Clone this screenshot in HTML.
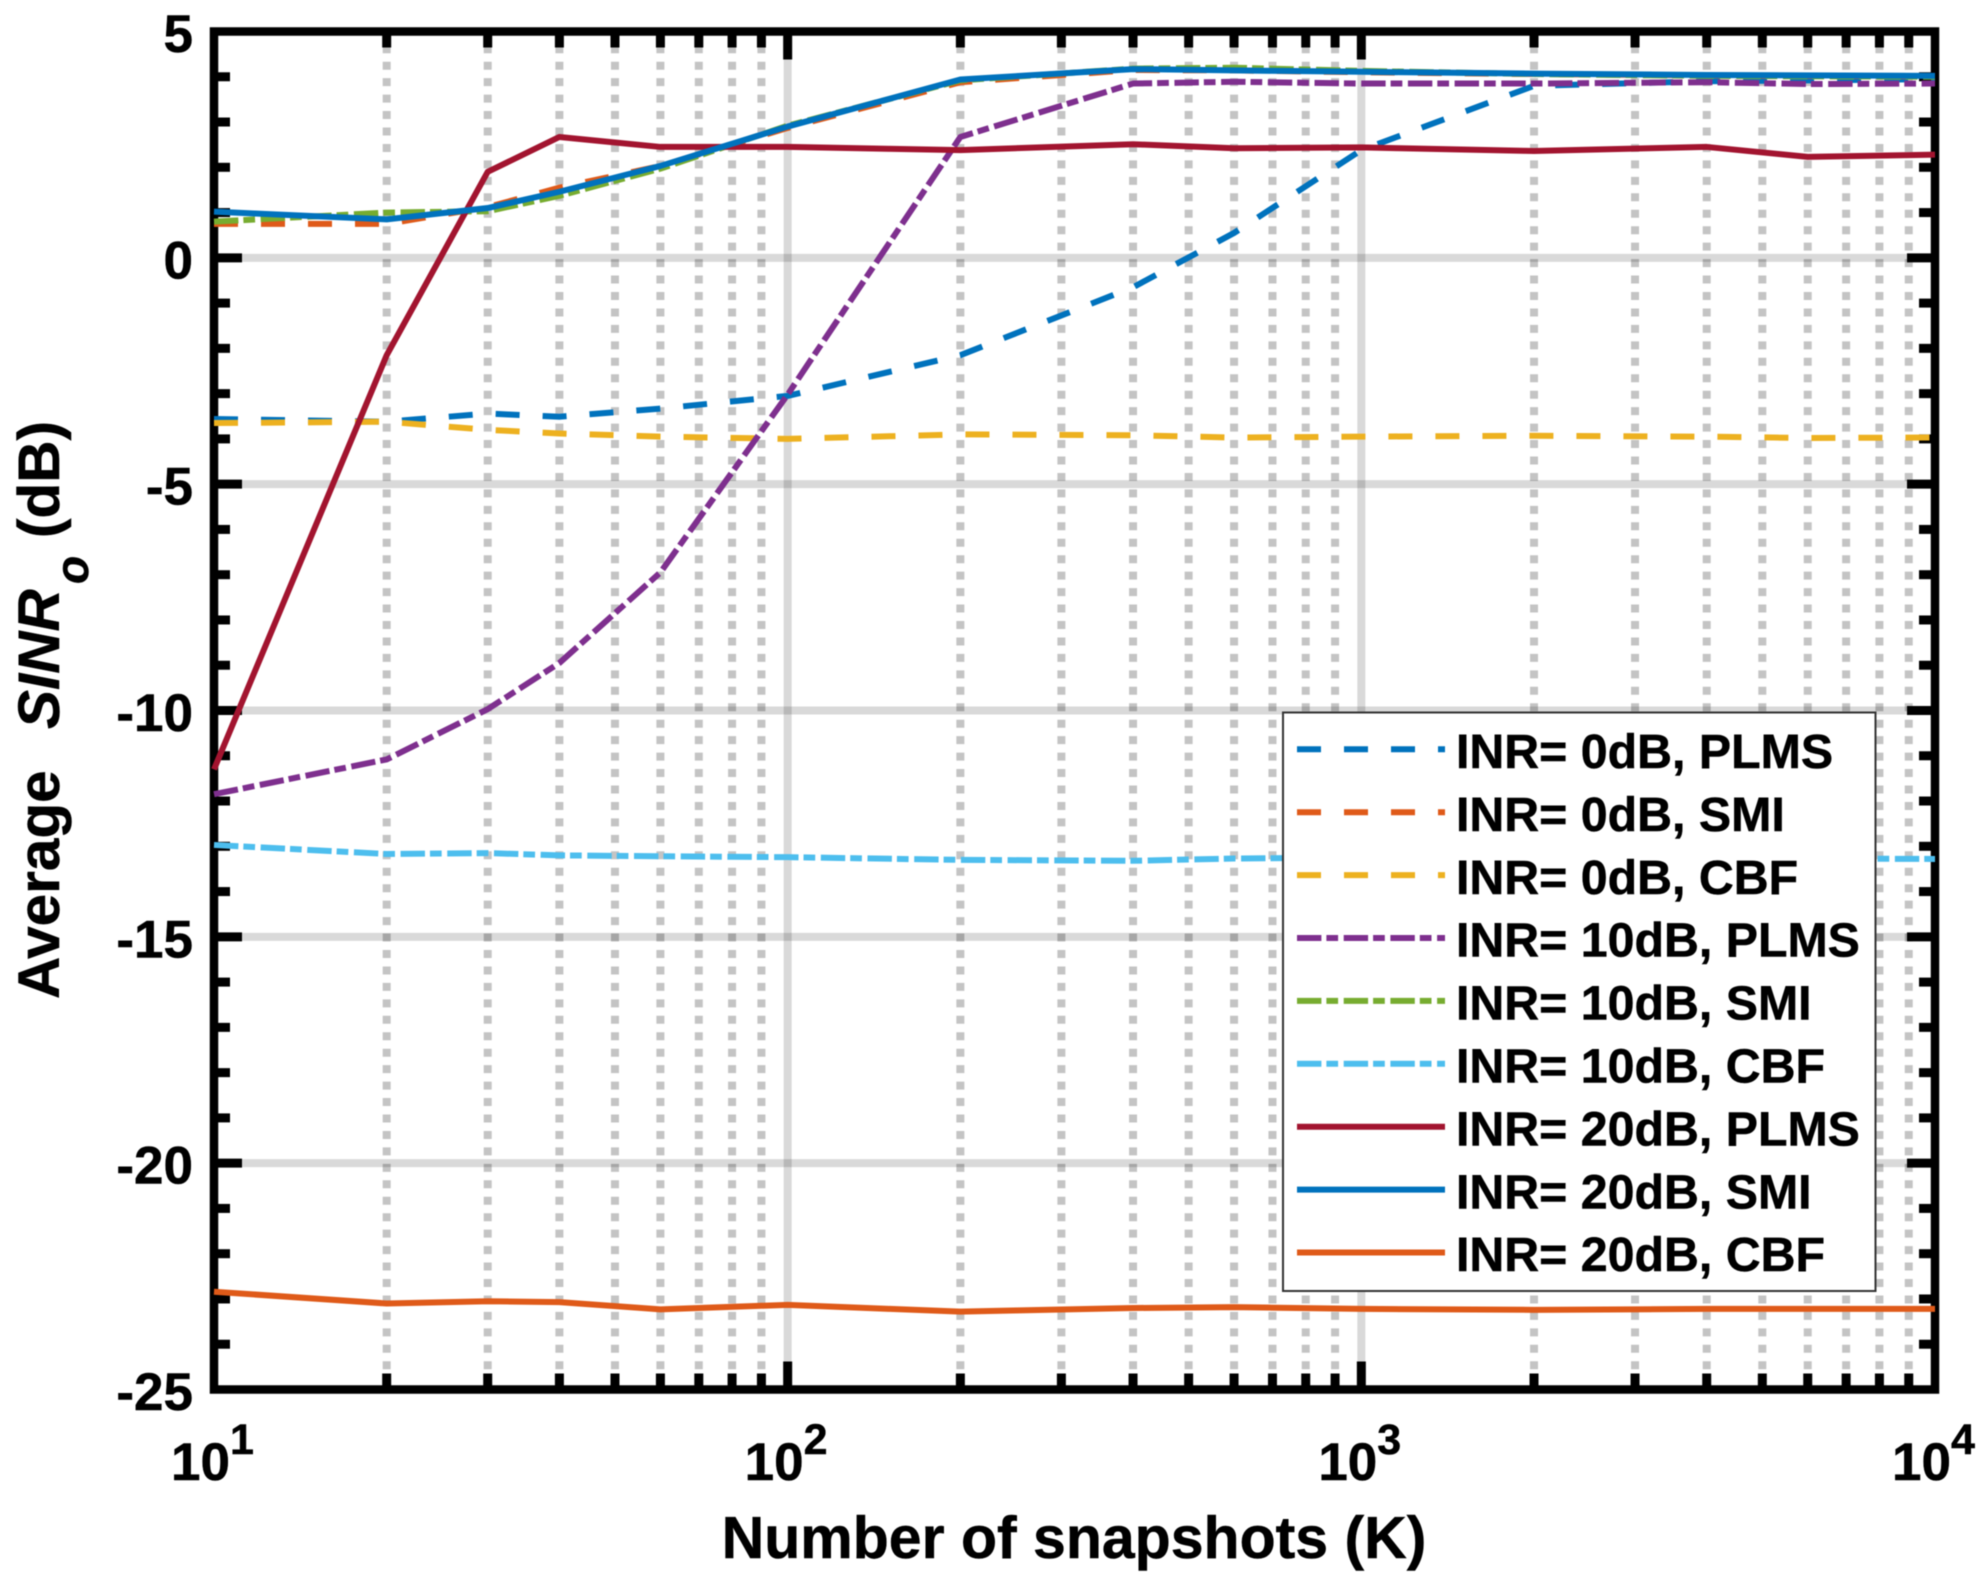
<!DOCTYPE html>
<html>
<head>
<meta charset="utf-8">
<title>Average SINR vs number of snapshots</title>
<style>
html,body{margin:0;padding:0;background:#fff;}
svg{display:block;font-family:"Liberation Sans",Arial,sans-serif;font-weight:bold;filter:blur(0.6px);}
text{stroke:#000;stroke-width:0.5px;}
</style>
</head>
<body>
<svg id="chart" xmlns="http://www.w3.org/2000/svg" width="1986" height="1587" viewBox="0 0 1986 1587">
  <rect x="0" y="0" width="1986" height="1587" fill="#fff"/>
  <g id="grid"></g>
  <g id="axes"></g>
  <g id="series"></g>
  <g id="ticklabels"></g>
  <text x="1074" y="1558" font-size="59" text-anchor="middle" fill="#000">Number of snapshots (K)</text>
  <text transform="translate(59,999) rotate(-90)" font-size="58.5" fill="#000"><tspan x="0">Average</tspan><tspan x="270" font-style="italic">SINR</tspan><tspan x="415" dy="29" font-size="46" font-style="italic">o</tspan><tspan x="461" dy="-29">(dB)</tspan></text>
  <g>
    <rect x="1283" y="712.5" width="592.5" height="578.5" fill="#fff" stroke="#333" stroke-width="2"/>
    <g id="legend-lines"></g>
    <g font-size="48.3" fill="#000">
      <text x="1456" y="768">INR= 0dB, PLMS</text>
      <text x="1456" y="830.9">INR= 0dB, SMI</text>
      <text x="1456" y="893.8">INR= 0dB, CBF</text>
      <text x="1456" y="956.7">INR= 10dB, PLMS</text>
      <text x="1456" y="1019.6">INR= 10dB, SMI</text>
      <text x="1456" y="1082.5">INR= 10dB, CBF</text>
      <text x="1456" y="1145.4">INR= 20dB, PLMS</text>
      <text x="1456" y="1208.3">INR= 20dB, SMI</text>
      <text x="1456" y="1271.2">INR= 20dB, CBF</text>
    </g>
  </g>
</svg>
<script>
// Chart data
const snapshots = [10, 20, 30, 40, 60, 100, 200, 400, 600, 1000, 2000, 4000, 6000, 10000];
const inr0Plms  = [-3.56, -3.62, -3.44, -3.51, -3.33, -3.05, -2.15, -0.65, 0.55, 2.38, 3.80, 3.90, 3.92, 3.95];
const inr0Smi   = [0.75, 0.75, 1.12, 1.55, 2.03, 2.87, 3.88, 4.15, 4.14, 4.10, 4.06, 4.03, 4.02, 4.01];
const inr0Cbf   = [-3.65, -3.62, -3.80, -3.88, -3.95, -4.00, -3.90, -3.92, -3.97, -3.95, -3.93, -3.95, -3.98, -3.97];
const inr10Plms = [-11.85, -11.08, -9.97, -8.95, -6.95, -3.02, 2.67, 3.85, 3.89, 3.85, 3.85, 3.88, 3.84, 3.85];
const inr10Smi  = [0.80, 1.00, 1.03, 1.37, 1.97, 2.92, 3.92, 4.18, 4.20, 4.13, 4.06, 4.02, 4.01, 4.00];
const inr10Cbf  = [-12.97, -13.17, -13.15, -13.20, -13.22, -13.24, -13.30, -13.32, -13.27, -13.25, -13.26, -13.27, -13.27, -13.28];
const inr20Plms = [-11.30, -2.15, 1.90, 2.67, 2.45, 2.45, 2.38, 2.51, 2.42, 2.44, 2.36, 2.45, 2.23, 2.28];
const inr20Smi  = [1.02, 0.85, 1.10, 1.46, 2.03, 2.90, 3.94, 4.17, 4.14, 4.11, 4.07, 4.04, 4.03, 4.02];
const inr20Cbf  = [-22.84, -23.10, -23.05, -23.07, -23.23, -23.13, -23.28, -23.20, -23.18, -23.22, -23.24, -23.22, -23.22, -23.22];

const xMajorTicks = [10, 100, 1000, 10000];
const xMinorTicks = [20, 30, 40, 50, 60, 70, 80, 90, 200, 300, 400, 500, 600, 700, 800, 900, 2000, 3000, 4000, 5000, 6000, 7000, 8000, 9000];
const xTickExponents = ['1', '2', '3', '4'];
const yMajorTicks = [5, 0, -5, -10, -15, -20, -25];
const yMinorTicks = [4, 3, 2, 1, -1, -2, -3, -4, -6, -7, -8, -9, -11, -12, -13, -14, -16, -17, -18, -19, -21, -22, -23, -24];

const DASH = '24 23';
const DASHDOT = '24.4 5 11.7 5.6';
const seriesDefs = [
  {name: 'inr0-plms',  values: inr0Plms,  color: '#0072BD', dash: DASH},
  {name: 'inr0-smi',   values: inr0Smi,   color: '#DF5A19', dash: DASH},
  {name: 'inr0-cbf',   values: inr0Cbf,   color: '#EDB120', dash: DASH},
  {name: 'inr10-plms', values: inr10Plms, color: '#7E2F8E', dash: DASHDOT},
  {name: 'inr10-smi',  values: inr10Smi,  color: '#77AC30', dash: DASHDOT},
  {name: 'inr10-cbf',  values: inr10Cbf,  color: '#4DBEEE', dash: DASHDOT},
  {name: 'inr20-plms', values: inr20Plms, color: '#A2142F', dash: ''},
  {name: 'inr20-smi',  values: inr20Smi,  color: '#0072BD', dash: ''},
  {name: 'inr20-cbf',  values: inr20Cbf,  color: '#DF5A19', dash: ''}
];

// Plot geometry
const plotLeft = 214, plotRight = 1935, plotTop = 31.5, plotBottom = 1389.5;
const xLogMin = 1, xLogMax = 4, yMin = -25, yMax = 5;
function xPos(k) { return plotLeft + (Math.log10(k) - xLogMin) / (xLogMax - xLogMin) * (plotRight - plotLeft); }
function yPos(v) { return plotBottom - (v - yMin) / (yMax - yMin) * (plotBottom - plotTop); }

const NS = 'http://www.w3.org/2000/svg';
function makeLine(parent, x1, y1, x2, y2, stroke, width) {
  const l = document.createElementNS(NS, 'line');
  l.setAttribute('x1', x1);
  l.setAttribute('y1', y1);
  l.setAttribute('x2', x2);
  l.setAttribute('y2', y2);
  l.setAttribute('stroke', stroke);
  l.setAttribute('stroke-width', width);
  parent.appendChild(l);
  return l;
}

const grid = document.getElementById('grid');
const axes = document.getElementById('axes');
const seriesGroup = document.getElementById('series');
const labels = document.getElementById('ticklabels');
const legendLines = document.getElementById('legend-lines');

// Grid
xMinorTicks.forEach(function (k) {
  const l = makeLine(grid, xPos(k), plotTop, xPos(k), plotBottom, '#000', 8);
  l.setAttribute('stroke-opacity', '0.23');
  l.setAttribute('stroke-dasharray', '8 8.45');
  l.setAttribute('stroke-dashoffset', '2.7');
  
  
});
xMajorTicks.slice(1, -1).forEach(function (k) {
  const l = makeLine(grid, xPos(k), plotTop, xPos(k), plotBottom, '#000', 8);
  l.setAttribute('stroke-opacity', '0.15');
  
  
});
yMajorTicks.slice(1, -1).forEach(function (v) {
  const l = makeLine(grid, plotLeft, yPos(v), plotRight, yPos(v), '#000', 8);
  l.setAttribute('stroke-opacity', '0.15');
  
  
});

// Ticks
const innerTop = plotTop + 4, innerBottom = plotBottom - 4, innerLeft = plotLeft + 4, innerRight = plotRight - 4;
function xTick(k, len) {
  const a = makeLine(axes, xPos(k), innerBottom, xPos(k), innerBottom - len, '#000', 9);
  
  
  const b = makeLine(axes, xPos(k), innerTop, xPos(k), innerTop + len, '#000', 9);
  
  
}
function yTick(v, len) {
  const a = makeLine(axes, innerLeft, yPos(v), innerLeft + len, yPos(v), '#000', 9);
  
  
  const b = makeLine(axes, innerRight, yPos(v), innerRight - len, yPos(v), '#000', 9);
  
  
}
xMinorTicks.forEach(function (k) { xTick(k, 12); });
xMajorTicks.slice(1, -1).forEach(function (k) { xTick(k, 24); });
yMinorTicks.forEach(function (v) { yTick(v, 12); });
yMajorTicks.slice(1, -1).forEach(function (v) { yTick(v, 24); });

// Axes box
const frame = document.createElementNS(NS, 'rect');
frame.setAttribute('x', plotLeft);
frame.setAttribute('y', plotTop);
frame.setAttribute('width', plotRight - plotLeft);
frame.setAttribute('height', plotBottom - plotTop);
frame.setAttribute('fill', 'none');
frame.setAttribute('stroke', '#000');
frame.setAttribute('stroke-width', '8.5');


axes.appendChild(frame);

// Tick labels
yMajorTicks.forEach(function (v) {
  const t = document.createElementNS(NS, 'text');
  t.setAttribute('x', 193);
  t.setAttribute('y', yPos(v) + 20.5);
  t.setAttribute('font-size', '53');
  t.setAttribute('text-anchor', 'end');
  
  
  t.textContent = String(v);
  labels.appendChild(t);
});
xMajorTicks.forEach(function (k, i) {
  const t = document.createElementNS(NS, 'text');
  t.setAttribute('x', xPos(k) - 43);
  t.setAttribute('y', 1480);
  t.setAttribute('font-size', '53');
  
  
  const base = document.createElementNS(NS, 'tspan');
  base.textContent = '10';
  t.appendChild(base);
  const sup = document.createElementNS(NS, 'tspan');
  sup.setAttribute('font-size', '43');
  sup.setAttribute('dy', '-26');
  sup.textContent = xTickExponents[i];
  t.appendChild(sup);
  labels.appendChild(t);
});

// Series and legend samples
const legendTop = 749.3, legendStep = 62.9;
seriesDefs.forEach(function (s, i) {
  const p = document.createElementNS(NS, 'polyline');
  const pts = s.values.map(function (v, j) { return xPos(snapshots[j]).toFixed(2) + ',' + yPos(v).toFixed(2); });
  p.setAttribute('points', pts.join(' '));
  p.setAttribute('fill', 'none');
  p.setAttribute('stroke', s.color);
  p.setAttribute('stroke-width', '6');
  p.setAttribute('stroke-linejoin', 'round');
  if (s.dash) p.setAttribute('stroke-dasharray', s.dash);
  
  
  seriesGroup.appendChild(p);

  const y = legendTop + i * legendStep;
  const l = makeLine(legendLines, 1297, y, 1445, y, s.color, 6);
  if (s.dash) l.setAttribute('stroke-dasharray', s.dash);
  
  
});
</script>
</body>
</html>
